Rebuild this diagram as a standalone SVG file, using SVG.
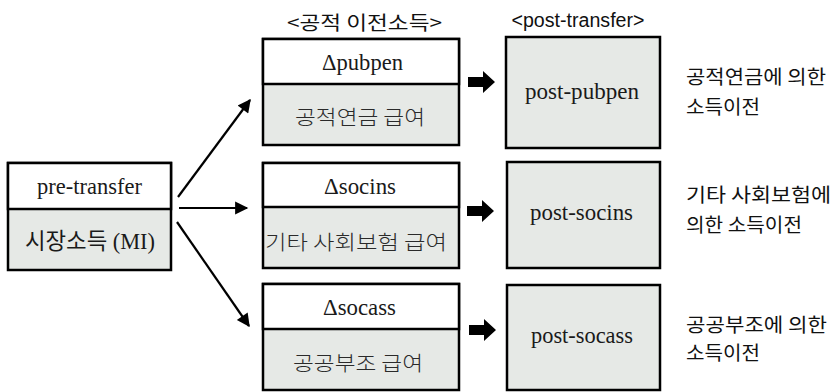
<svg xmlns="http://www.w3.org/2000/svg" width="834" height="392" viewBox="0 0 834 392">
  <defs>
    <style>
      .box { stroke: #000; stroke-width: 2.5; }
      .top { fill: #fff; }
      .low { fill: #e6e9e6; }
      .lat { font-family: "Liberation Serif", "Noto Sans CJK KR", serif; font-size: 23px; fill: #1a1a1a; text-anchor: middle; dominant-baseline: central; }
      .kor { font-family: "Noto Sans CJK KR", sans-serif; font-size: 20.5px; fill: #2a2a2a; text-anchor: middle; dominant-baseline: central; font-weight: 300; }
      .note { font-family: "Noto Sans CJK KR", sans-serif; font-size: 19.5px; fill: #111; dominant-baseline: central; }
      .head { font-family: "Noto Sans CJK KR", sans-serif; font-size: 19.5px; fill: #111; text-anchor: middle; dominant-baseline: central; }
      .heads { font-family: "Liberation Sans", sans-serif; font-size: 20px; fill: #111; text-anchor: middle; dominant-baseline: central; }
      .thin { stroke: #000; stroke-width: 2.2; fill: none; marker-end: url(#tip); }
      .fat { fill: #000; }
    </style>
    <marker id="tip" viewBox="0 0 10 10" refX="9" refY="5" markerWidth="7" markerHeight="6" markerUnits="strokeWidth" orient="auto">
      <path d="M0,0 L10,5 L0,10 Z" fill="#000"/>
    </marker>
  </defs>

  <!-- column headings -->
  <text class="head" x="364.5" y="21" textLength="155" lengthAdjust="spacingAndGlyphs">&lt;공적 이전소득&gt;</text>
  <text class="heads" x="578" y="20" textLength="133" lengthAdjust="spacingAndGlyphs">&lt;post-transfer&gt;</text>

  <!-- source node -->
  <g id="pre-transfer">
    <rect class="box low" x="8" y="163" width="163" height="107"/>
    <rect class="box top" x="8" y="163" width="163" height="46"/>
    <text class="lat" x="89.5" y="186" textLength="105" lengthAdjust="spacingAndGlyphs">pre-transfer</text>
    <text class="lat" x="90" y="241" font-size="21" textLength="130" lengthAdjust="spacingAndGlyphs">시장소득 (MI)</text>
  </g>

  <!-- public transfer components -->
  <g id="pubpen">
    <rect class="box low" x="263" y="39" width="196" height="106"/>
    <rect class="box top" x="263" y="39" width="196" height="45"/>
    <text class="lat" x="362.5" y="62" textLength="81" lengthAdjust="spacingAndGlyphs">Δpubpen</text>
    <text class="kor" x="360" y="116" textLength="130" lengthAdjust="spacingAndGlyphs">공적연금 급여</text>
  </g>
  <g id="socins">
    <rect class="box low" x="263" y="163" width="196" height="105"/>
    <rect class="box top" x="263" y="163" width="196" height="44"/>
    <text class="lat" x="360" y="186" textLength="72" lengthAdjust="spacingAndGlyphs">Δsocins</text>
    <text class="kor" x="356" y="241" textLength="182" lengthAdjust="spacingAndGlyphs">기타 사회보험 급여</text>
  </g>
  <g id="socass">
    <rect class="box low" x="263" y="284" width="196" height="106"/>
    <rect class="box top" x="263" y="284" width="196" height="45"/>
    <text class="lat" x="359.5" y="307" textLength="73" lengthAdjust="spacingAndGlyphs">Δsocass</text>
    <text class="kor" x="358" y="362" textLength="130" lengthAdjust="spacingAndGlyphs">공공부조 급여</text>
  </g>

  <!-- post-transfer results -->
  <g id="post-pubpen">
    <rect class="box low" x="506" y="37" width="154" height="111"/>
    <text class="lat" x="582" y="91" textLength="114" lengthAdjust="spacingAndGlyphs">post-pubpen</text>
  </g>
  <g id="post-socins">
    <rect class="box low" x="507" y="162" width="153" height="106"/>
    <text class="lat" x="581.5" y="212" textLength="103" lengthAdjust="spacingAndGlyphs">post-socins</text>
  </g>
  <g id="post-socass">
    <rect class="box low" x="507" y="285" width="153" height="105"/>
    <text class="lat" x="582" y="335" textLength="102" lengthAdjust="spacingAndGlyphs">post-socass</text>
  </g>

  <!-- side notes -->
  <g id="notes">
    <text class="note" x="686" y="75" textLength="140" lengthAdjust="spacingAndGlyphs">공적연금에 의한</text>
    <text class="note" x="686" y="105" textLength="74" lengthAdjust="spacingAndGlyphs">소득이전</text>
    <text class="note" x="686" y="193" textLength="145" lengthAdjust="spacingAndGlyphs">기타 사회보험에</text>
    <text class="note" x="686" y="223" textLength="116" lengthAdjust="spacingAndGlyphs">의한 소득이전</text>
    <text class="note" x="686" y="323" textLength="141" lengthAdjust="spacingAndGlyphs">공공부조에 의한</text>
    <text class="note" x="686" y="351" textLength="74" lengthAdjust="spacingAndGlyphs">소득이전</text>
  </g>

  <!-- connectors -->
  <g id="connectors">
    <line class="thin" x1="178" y1="197" x2="250" y2="100"/>
    <line class="thin" x1="179" y1="208" x2="247" y2="208"/>
    <line class="thin" x1="177" y1="222" x2="249" y2="326"/>
    <path class="fat" d="M468,77 H483 V71 L495,82 L483,93 V87 H468 Z"/>
    <path class="fat" d="M467,206 H482 V200 L494,211 L482,222 V216 H467 Z"/>
    <path class="fat" d="M469,325 H484 V319 L496,330 L484,341 V335 H469 Z"/>
  </g>
</svg>
